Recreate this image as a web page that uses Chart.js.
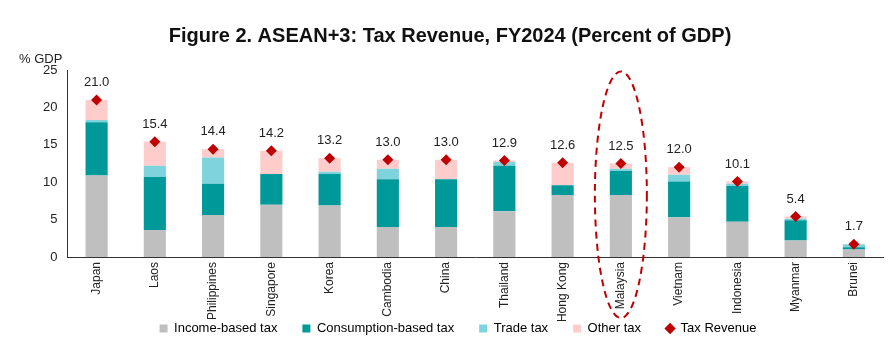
<!DOCTYPE html>
<html>
<head>
<meta charset="utf-8">
<script src="https://cdn.jsdelivr.net/npm/chart.js@4"></script>
<style>
  html, body { margin: 0; padding: 0; background: #fff; }
  #wrap { width: 895px; height: 339px; position: relative; }
</style>
</head>
<body>
<div id="wrap"><canvas id="taxChart"></canvas></div>
<script>
const countries = ['Japan', 'Laos', 'Philippines', 'Singapore', 'Korea', 'Cambodia', 'China',
  'Thailand', 'Hong Kong', 'Malaysia', 'Vietnam', 'Indonesia', 'Myanmar', 'Brunei'];
const incomeTax      = [10.9, 3.6, 5.6, 7.0, 6.9, 4.0, 4.0, 6.1, 8.3, 8.3, 5.3, 4.7, 2.2, 1.0];
const consumptionTax = [7.1, 7.1, 4.2, 4.1, 4.2, 6.4, 6.4, 6.1, 1.3, 3.2, 4.8, 4.8, 2.7, 0.3];
const tradeTax       = [0.3, 1.5, 3.5, 0.0, 0.3, 1.4, 0.0, 0.5, 0.0, 0.3, 0.9, 0.3, 0.2, 0.4];
const otherTax       = [2.7, 3.2, 1.1, 3.1, 1.8, 1.2, 2.6, 0.2, 3.0, 0.7, 1.0, 0.3, 0.3, 0.0];
const taxRevenue     = [21.0, 15.4, 14.4, 14.2, 13.2, 13.0, 13.0, 12.9, 12.6, 12.5, 12.0, 10.1, 5.4, 1.7];
const yTicks = [0, 5, 10, 15, 20, 25];
const highlighted = 'Malaysia';
const chartTitle = 'Figure 2. ASEAN+3: Tax Revenue, FY2024 (Percent of GDP)';

const FONT = 'Liberation Sans, Arial, sans-serif';
const RED = '#c00000';

const barSet = (label, data, color) => ({
  type: 'bar', label, data, backgroundColor: color, stack: 'tax',
  barPercentage: 0.38, categoryPercentage: 1, order: 1
});

// value labels above the diamonds
const valueLabels = {
  id: 'valueLabels',
  afterDatasetsDraw(chart) {
    const meta = chart.getDatasetMeta(4);
    const ctx = chart.ctx;
    ctx.save();
    ctx.font = '13px ' + FONT;
    ctx.fillStyle = '#222';
    ctx.textAlign = 'center';
    ctx.textBaseline = 'bottom';
    meta.data.forEach((pt, i) => {
      ctx.fillText(taxRevenue[i].toFixed(1), pt.x, pt.y - 11);
    });
    ctx.restore();
  }
};

// x labels are longer than the box the axis keeps; widen its clip area
const labelRoom = {
  id: 'labelRoom',
  afterLayout(chart) {
    chart.scales.x.bottom = chart.height;
  }
};

// title, "% GDP" unit label and the dashed ring around one country
const extras = {
  id: 'extras',
  afterDraw(chart) {
    const { ctx, chartArea, scales } = chart;
    ctx.save();
    ctx.font = 'bold 20px ' + FONT;
    ctx.fillStyle = '#111';
    ctx.textAlign = 'center';
    ctx.textBaseline = 'middle';
    ctx.fillText(chartTitle, 450, 36);

    ctx.font = '13px ' + FONT;
    ctx.fillStyle = '#222';
    ctx.textAlign = 'left';
    ctx.textBaseline = 'bottom';
    ctx.fillText('% GDP', 19, chartArea.top - 4);

    const cx = scales.x.getPixelForValue(countries.indexOf(highlighted));
    const top = scales.y.getPixelForValue(24.8);
    const bottom = chartArea.bottom + 61;
    ctx.strokeStyle = RED;
    ctx.lineWidth = 2;
    ctx.setLineDash([7, 5]);
    ctx.beginPath();
    ctx.ellipse(cx, (top + bottom) / 2, 26, (bottom - top) / 2, 0, 0, Math.PI * 2);
    ctx.stroke();
    ctx.restore();
  }
};

new Chart(document.getElementById('taxChart'), {
  data: {
    labels: countries,
    datasets: [
      barSet('Income-based tax', incomeTax, '#bfbfbf'),
      barSet('Consumption-based tax', consumptionTax, '#009999'),
      barSet('Trade tax', tradeTax, '#7fd3dd'),
      barSet('Other tax', otherTax, '#ffcccc'),
      {
        type: 'line', label: 'Tax Revenue', data: taxRevenue, stack: 'total',
        showLine: false, pointStyle: 'rectRot', pointRadius: 5.5, pointHoverRadius: 5.5,
        backgroundColor: RED, borderColor: RED, borderWidth: 0, order: 0
      }
    ]
  },
  options: {
    responsive: true,
    maintainAspectRatio: false,
    animation: false,
    layout: { padding: { left: 33, right: 12, top: 70, bottom: -6 } },
    plugins: {
      title: { display: false },
      legend: {
        position: 'bottom',
        labels: {
          usePointStyle: true,
          boxWidth: 8, boxHeight: 8,
          padding: 25,
          color: '#222',
          font: { family: FONT, size: 13 },
          sort: (a, b) => a.datasetIndex - b.datasetIndex,
          generateLabels(chart) {
            return chart.data.datasets.map((ds, i) => ({
              text: ds.label,
              fillStyle: ds.backgroundColor,
              strokeStyle: ds.backgroundColor,
              lineWidth: 0,
              pointStyle: ds.type === 'line' ? 'rectRot' : 'rect',
              datasetIndex: i
            }));
          }
        }
      },
      tooltip: { enabled: false }
    },
    scales: {
      x: {
        stacked: true,
        grid: { display: false, drawTicks: false },
        border: { color: '#333', width: 1 },
        ticks: {
          color: '#222', font: { family: FONT, size: 12 },
          minRotation: 90, maxRotation: 90, padding: 5, autoSkip: false
        },
        // labels run into the legend's top padding
        afterFit: axis => { axis.height = 40; }
      },
      y: {
        stacked: true,
        min: 0, max: 25,
        afterBuildTicks: axis => { axis.ticks = yTicks.map(v => ({ value: v })); },
        grid: { display: false, drawTicks: false },
        border: { color: '#333', width: 1 },
        ticks: { color: '#222', font: { family: FONT, size: 13 }, padding: 10 }
      }
    }
  },
  plugins: [valueLabels, labelRoom, extras]
});
</script>
</body>
</html>
